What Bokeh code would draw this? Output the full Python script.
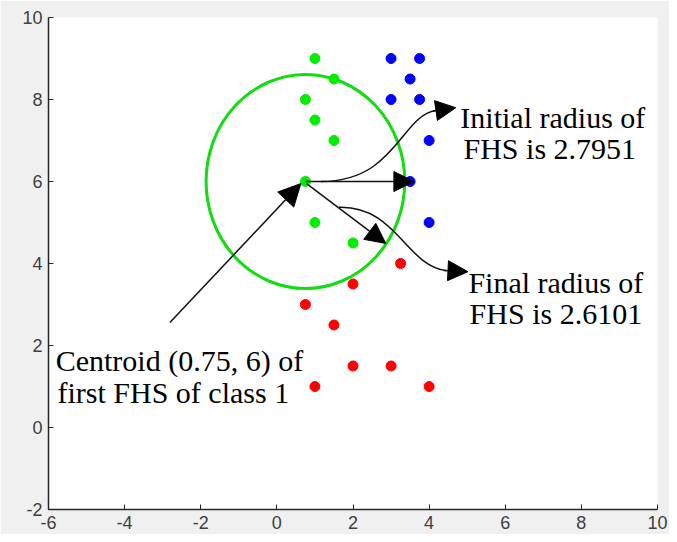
from bokeh.plotting import figure
from bokeh.models import Arrow, NormalHead, FixedTicker, Range1d, CustomJSTickFormatter
from bokeh.core.properties import value
from bokeh.embed import file_html
from bokeh.resources import INLINE

# ---- data ----
class1_x = [1, 1.5, 0.75, 1, 1.5, 0.75, 1, 2]
class1_y = [9, 8.5, 8, 7.5, 7, 6, 5, 4.5]
class2_x = [3, 3.75, 3.5, 3, 3.75, 4, 3.5, 4]
class2_y = [9, 9, 8.5, 8, 8, 7, 6, 5]
class3_x = [3.25, 2, 0.75, 1.5, 2, 3, 1, 4]
class3_y = [4, 3.5, 3, 2.5, 1.5, 1.5, 1, 1]
centroid = (0.75, 6)
final_radius = 2.6101
x_ticks = [-6, -4, -2, 0, 2, 4, 6, 8, 10]
y_ticks = [-2, 0, 2, 4, 6, 8, 10]

p = figure(frame_width=609, frame_height=492, output_backend="svg",
           toolbar_location=None, x_range=Range1d(-6, 10), y_range=Range1d(-2, 10),
           min_border_left=48, min_border_right=12, min_border_top=17, min_border_bottom=25)
p.background_fill_color = "white"
p.border_fill_color = "#f0f0f0"
p.outline_line_color = None
p.xgrid.visible = False
p.ygrid.visible = False

for ax in (p.xaxis[0], p.yaxis[0]):
    ax.axis_line_color = "#262626"
    ax.axis_line_width = 1.5
    ax.major_tick_line_color = "#262626"
    ax.major_tick_in = 5
    ax.major_tick_out = 0
    ax.minor_tick_line_color = None
    ax.major_label_text_font = "Liberation Sans"
    ax.major_label_text_font_size = "18px"
    ax.major_label_text_color = "#404040"
    ax.major_label_standoff = 6
    ax.formatter = CustomJSTickFormatter(code="return tick.toString();")
p.xaxis.ticker = FixedTicker(ticks=x_ticks)
p.yaxis.ticker = FixedTicker(ticks=y_ticks)

# circle of final radius
p.ellipse(x=[centroid[0]], y=[centroid[1]], width=2 * final_radius, height=2 * final_radius,
          fill_color=None, line_color="#11dd11", line_width=3)

p.scatter(class1_x, class1_y, size=10, color="#00ee00")
p.scatter(class2_x, class2_y, size=10, color="#0000ff")
p.scatter(class3_x, class3_y, size=10, color="#ff0000")

def head(sz=20):
    return NormalHead(size=sz, fill_color="black", line_color="black")

# straight arrows
p.add_layout(Arrow(end=head(22), x_start=-2.81, y_start=2.56, x_end=0.63, y_end=5.95,
                   line_color="#111111", line_width=1.5))
p.add_layout(Arrow(end=head(20), x_start=0.75, y_start=6, x_end=3.6, y_end=6,
                   line_color="#111111", line_width=1.5))
p.add_layout(Arrow(end=head(20), x_start=0.78, y_start=5.95, x_end=2.86, y_end=4.49,
                   line_color="#111111", line_width=1.5))

# curved arrows
p.bezier(x0=[1.16], y0=[6.0], x1=[4.18], y1=[7.73], cx0=[3.13], cy0=[6.0], cx1=[3.26], cy1=[7.61],
         line_color="#111111", line_width=1.5)
p.add_layout(Arrow(end=head(20), x_start=4.1, y_start=7.72, x_end=4.70, y_end=7.80,
                   line_color="#111111", line_width=1.5))
p.bezier(x0=[1.63], y0=[5.37], x1=[4.44], y1=[3.83], cx0=[3.13], cy0=[5.41], cx1=[3.39], cy1=[3.95],
         line_color="#111111", line_width=1.5)
p.add_layout(Arrow(end=head(20), x_start=4.38, y_start=3.83, x_end=5.02, y_end=3.80,
                   line_color="#111111", line_width=1.5))

# annotation texts
txt_kw = dict(text_font=value("Liberation Serif"), text_font_size="30px", text_color="black",
              text_align="center", text_baseline="alphabetic")
p.text(x=[7.25], y=[7.56], text=["Initial radius of"], **txt_kw)
p.text(x=[7.17], y=[6.80], text=["FHS is 2.7951"], **txt_kw)
p.text(x=[7.33], y=[3.54], text=["Final radius of"], **txt_kw)
p.text(x=[7.33], y=[2.78], text=["FHS is 2.6101"], **txt_kw)
p.text(x=[-2.56], y=[1.63], text=["Centroid (0.75, 6) of"], **txt_kw)
p.text(x=[-2.72], y=[0.85], text=["first FHS of class 1"], **txt_kw)

open("out.html", "w").write(file_html(p, INLINE))
